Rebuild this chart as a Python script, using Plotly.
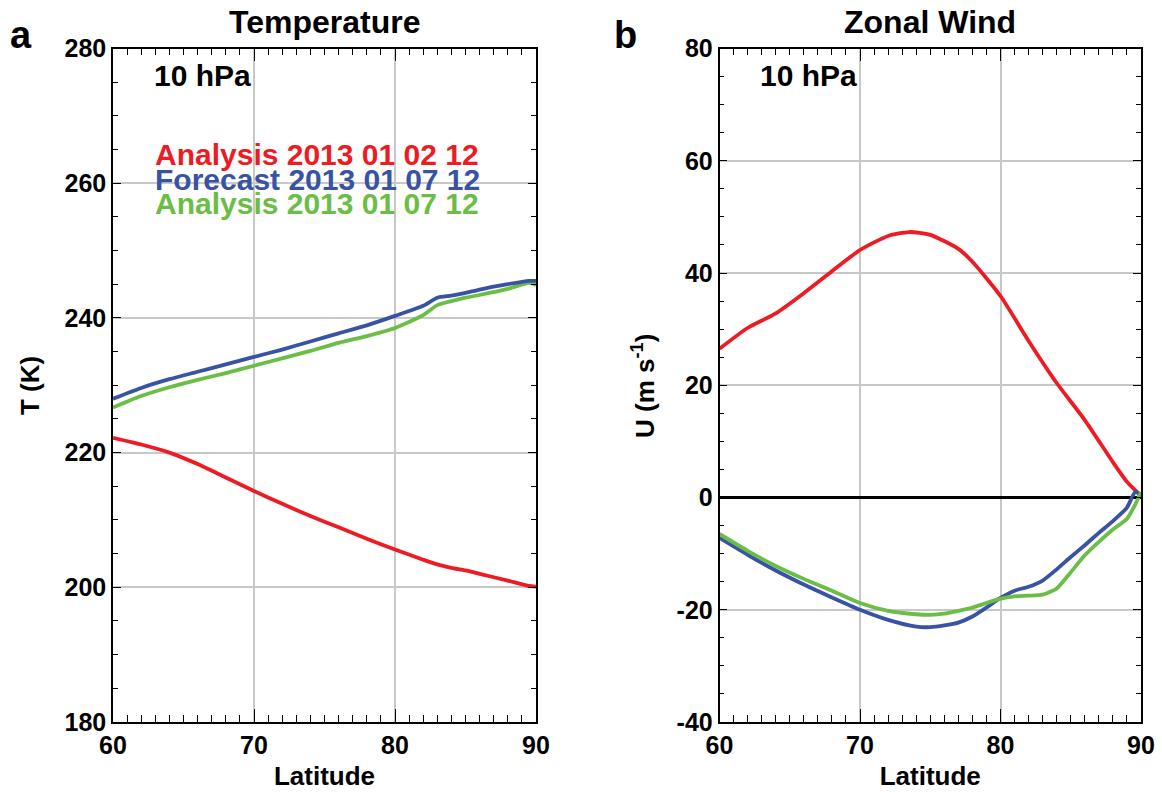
import plotly.graph_objects as go

# ---- data ----
lat_t = [60, 62, 64, 66, 68, 70, 72, 74, 76, 78, 80, 82, 83, 84, 85, 86, 88, 89.5, 90]
t_an0102 = [222.2, 221.2, 220.0, 218.3, 216.3, 214.3, 212.4, 210.6, 208.9, 207.2, 205.6, 204.1, 203.4, 202.9, 202.5, 202.0, 201.0, 200.2, 200.1]
t_fc0107 = [228.0, 229.6, 230.9, 232.0, 233.1, 234.2, 235.3, 236.5, 237.7, 238.9, 240.3, 241.8, 243.0, 243.3, 243.7, 244.2, 245.0, 245.5, 245.5]
t_an0107 = [226.7, 228.4, 229.7, 230.8, 231.8, 232.9, 234.0, 235.1, 236.3, 237.3, 238.5, 240.4, 241.9, 242.5, 243.0, 243.4, 244.3, 245.2, 244.9]

lat_u = [60, 62, 64, 66, 68, 70, 72, 73.5, 75, 77, 78, 80, 82, 84, 86, 88, 89, 90]
u_an0102 = [26.5, 30.2, 32.8, 36.4, 40.3, 44.1, 46.6, 47.3, 46.8, 44.3, 42.0, 35.9, 27.9, 20.4, 13.8, 6.3, 2.8, 0.3]

lat_u2 = [60, 62, 64, 66, 68, 70, 72, 74, 75, 76, 77, 78, 79, 80, 81, 82, 83, 84, 85, 86, 87, 88, 89, 89.6, 90]
u_fc0107 = [-7.2, -10.2, -13.0, -15.5, -17.8, -20.0, -21.8, -23.0, -23.1, -22.8, -22.3, -21.2, -19.6, -17.9, -16.6, -15.9, -14.8, -12.8, -10.6, -8.5, -6.3, -4.2, -1.8, 1.0, 0.4]
u_an0107 = [-6.5, -9.5, -12.2, -14.5, -16.6, -18.8, -20.2, -20.8, -20.9, -20.7, -20.2, -19.6, -18.8, -18.0, -17.6, -17.5, -17.3, -16.2, -13.3, -10.3, -7.9, -5.7, -3.8, -1.2, 1.0]

t_ticks = [180, 200, 220, 240, 260, 280]
u_ticks = [-40, -20, 0, 20, 40, 60, 80]
u_ticktext = ["-40", "-20", "0", "20", "40", "60", "80"]

legend_labels = ["Analysis 2013 01 02 12", "Forecast 2013 01 07 12", "Analysis 2013 01 07 12"]
titles = ["Temperature", "Zonal Wind"]
y_titles = ["T (K)", "U (m s<sup>-1</sup>)"]
panel_letters = ["a", "b"]

RED = "#ED1C24"
BLUE = "#3953A4"
GREEN = "#6ABD45"
FONT = "Liberation Sans"

fig = go.Figure()
lw = 3.8
ln = lambda c: dict(color=c, width=lw, shape="spline", smoothing=0.6)
fig.add_trace(go.Scatter(x=lat_t, y=t_an0102, mode="lines", line=ln(RED), xaxis="x", yaxis="y"))
fig.add_trace(go.Scatter(x=lat_t, y=t_an0107, mode="lines", line=ln(GREEN), xaxis="x", yaxis="y"))
fig.add_trace(go.Scatter(x=lat_t, y=t_fc0107, mode="lines", line=ln(BLUE), xaxis="x", yaxis="y"))

fig.add_trace(go.Scatter(x=lat_u, y=u_an0102, mode="lines", line=ln(RED), xaxis="x2", yaxis="y2"))
fig.add_trace(go.Scatter(x=lat_u2, y=u_fc0107, mode="lines", line=ln(BLUE), xaxis="x2", yaxis="y2"))
fig.add_trace(go.Scatter(x=lat_u2, y=u_an0107, mode="lines", line=ln(GREEN), xaxis="x2", yaxis="y2"))

tickfont = dict(family=FONT, size=25, color="black", weight="bold")
titlefont = dict(family=FONT, size=26, color="black", weight="bold")

def xaxis_cfg(domain, anchor):
    return dict(domain=domain, anchor=anchor, range=[60, 90], dtick=10, tick0=60,
                ticks="inside", ticklen=13, tickwidth=1.2, tickcolor="black",
                minor=dict(ticks="inside", dtick=1, ticklen=7, tickwidth=1, tickcolor="black", showgrid=False),
                showline=True, linecolor="black", linewidth=1.5, mirror="allticks",
                showgrid=True, gridcolor="#c8c8c8", gridwidth=1.5, zeroline=False, automargin=False,
                tickfont=tickfont, title=dict(text="Latitude", font=titlefont, standoff=9))

def yaxis_cfg(domain, anchor, rng, tv, tt):
    return dict(domain=domain, anchor=anchor, range=rng, tickvals=tv, ticktext=tt,
                ticks="inside", ticklen=8, tickwidth=1.2, tickcolor="black",
                minor=dict(ticks="inside", dtick=5, ticklen=5, tickwidth=1, tickcolor="black", showgrid=False),
                showline=True, linecolor="black", linewidth=1.5, mirror="allticks",
                showgrid=True, gridcolor="#c8c8c8", gridwidth=1.5, automargin=False,
                tickfont=tickfont)

ydom = [1 - 722 / 792, 1 - 48.5 / 792]
fig.update_layout(
    width=1162, height=792,
    margin=dict(l=0, r=0, t=0, b=0, autoexpand=False),
    paper_bgcolor="white", plot_bgcolor="white",
    showlegend=False,
    xaxis=xaxis_cfg([113 / 1162, 536 / 1162], "y"),
    yaxis=yaxis_cfg(ydom, "x", [180, 280], t_ticks, [str(v) for v in t_ticks]),
    xaxis2=xaxis_cfg([719.5 / 1162, 1141 / 1162], "y2"),
    yaxis2=yaxis_cfg(ydom, "x2", [-40, 80], u_ticks, u_ticktext),
)
fig.update_layout(yaxis2=dict(zeroline=True, zerolinecolor="black", zerolinewidth=3))

# y-axis titles (rotated)
for t, xc in zip(y_titles, [30, 643]):
    fig.add_annotation(text=t, xref="paper", yref="paper", x=xc / 1162, y=1 - 386 / 792,
                       xanchor="center", yanchor="middle", textangle=-90, showarrow=False,
                       font=dict(family=FONT, size=26, color="black", weight="bold"))

# titles and panel letters
for t, xc in zip(titles, [324.5, 930]):
    fig.add_annotation(text=t, xref="paper", yref="paper", x=xc / 1162, y=1 - 22 / 792,
                       xanchor="center", yanchor="middle", showarrow=False,
                       font=dict(family=FONT, size=32, color="black", weight="bold"))
for letter, xl in zip(panel_letters, [8, 612]):
    fig.add_annotation(text=letter, xref="paper", yref="paper", x=xl / 1162, y=1 - 35 / 792,
                       xanchor="left", yanchor="middle", showarrow=False,
                       font=dict(family=FONT, size=38, color="black", weight="bold"))

# "10 hPa" labels
for xr, yr in [("x domain", "y domain"), ("x2 domain", "y2 domain")]:
    fig.add_annotation(text="10 hPa", xref=xr, yref=yr, x=(152 - 113) / 423, y=1 - (75 - 48.5) / 673.5,
                       xanchor="left", yanchor="middle", showarrow=False,
                       font=dict(family=FONT, size=30, color="black", weight="bold"))

# legend text
for lab, col, yp in zip(legend_labels, [RED, BLUE, GREEN], [155, 179, 203]):
    fig.add_annotation(text=lab, xref="x domain", yref="y domain", x=(153 - 113) / 423, y=1 - (yp - 48.5) / 673.5,
                       xanchor="left", yanchor="middle", showarrow=False,
                       font=dict(family=FONT, size=30, color=col, weight="bold"))

fig.write_html("out.html", config={"displayModeBar": False},
               post_script="document.body.style.margin='0px';")
